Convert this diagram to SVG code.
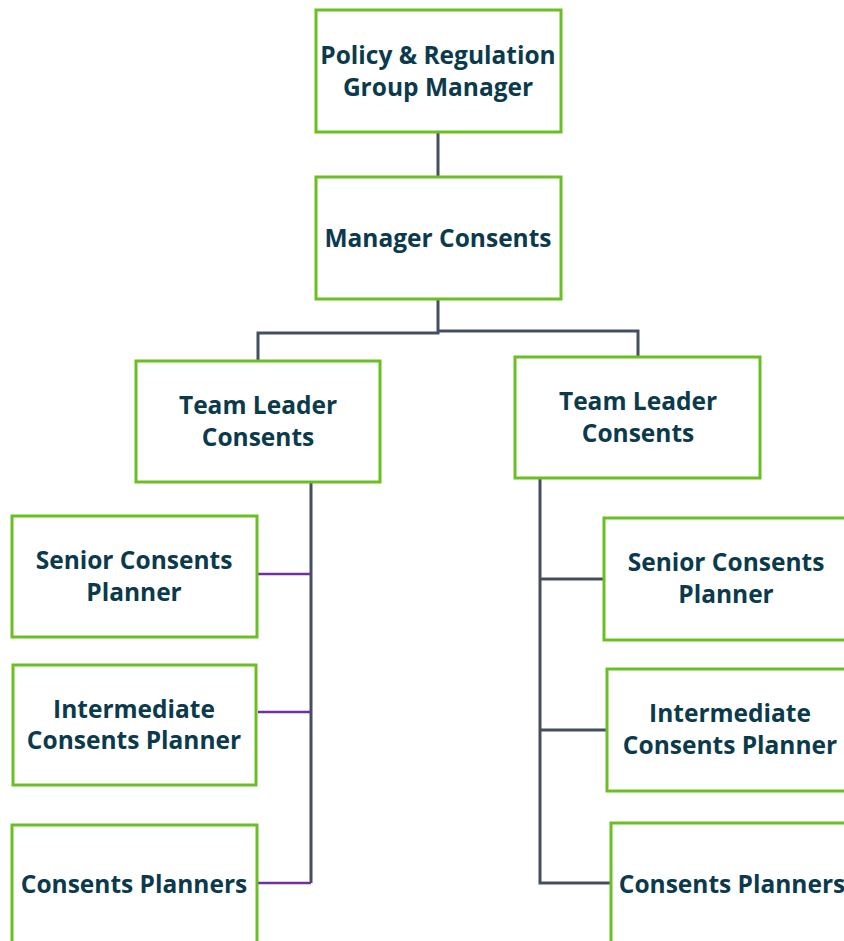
<svg xmlns="http://www.w3.org/2000/svg" width="844" height="941" viewBox="0 0 844 941">
<style>
.box{fill:#ffffff;stroke:#6abf22;stroke-width:3}
.t{font-family:"Open Sans","Noto Sans","Liberation Sans",sans-serif;font-weight:bold;font-size:24.5px;fill:#0b3a4d;text-anchor:middle}
.c{fill:none;stroke:#444f60;stroke-width:3}
.p{fill:none;stroke:#7030a0;stroke-width:2.5}
</style>
<rect width="844" height="941" fill="#ffffff"/>
<g id="connectors">
<path class="c" d="M438 132V177"/>
<path class="c" d="M438 299V333H258V361"/>
<path class="c" d="M438 331H638V357"/>
<path class="c" d="M311 482V883"/>
<path class="p" d="M258 574H311"/>
<path class="p" d="M258 712H311"/>
<path class="p" d="M258 883H311"/>
<path class="c" d="M540 478V883H611"/>
<path class="c" d="M540 579H604"/>
<path class="c" d="M540 730H607"/>
</g>
<g id="policy-regulation-group-manager">
<rect class="box" x="316" y="10" width="245" height="122"/>
<text class="t" x="438" y="64">Policy &amp; Regulation</text>
<text class="t" x="438" y="96">Group Manager</text>
</g>
<g id="manager-consents">
<rect class="box" x="316" y="177" width="245" height="122"/>
<text class="t" x="438" y="247">Manager Consents</text>
</g>
<g id="team-leader-left">
<rect class="box" x="136" y="361" width="244" height="121"/>
<text class="t" x="258" y="414">Team Leader</text>
<text class="t" x="258" y="446">Consents</text>
</g>
<g id="team-leader-right">
<rect class="box" x="515" y="357" width="245" height="121"/>
<text class="t" x="638" y="410">Team Leader</text>
<text class="t" x="638" y="442">Consents</text>
</g>
<g id="senior-left">
<rect class="box" x="12" y="516" width="245" height="121"/>
<text class="t" x="134" y="569">Senior Consents</text>
<text class="t" x="134" y="601">Planner</text>
</g>
<g id="intermediate-left">
<rect class="box" x="13" y="665" width="243" height="120"/>
<text class="t" x="134" y="718">Intermediate</text>
<text class="t" x="134" y="749">Consents Planner</text>
</g>
<g id="planners-left">
<rect class="box" x="12" y="825" width="245" height="130"/>
<text class="t" x="134" y="893">Consents Planners</text>
</g>
<g id="senior-right">
<rect class="box" x="604" y="518" width="260" height="122"/>
<text class="t" x="726" y="571">Senior Consents</text>
<text class="t" x="726" y="603">Planner</text>
</g>
<g id="intermediate-right">
<rect class="box" x="607" y="669" width="260" height="122"/>
<text class="t" x="730" y="722">Intermediate</text>
<text class="t" x="730" y="754">Consents Planner</text>
</g>
<g id="planners-right">
<rect class="box" x="611" y="823" width="260" height="130"/>
<text class="t" x="732" y="893">Consents Planners</text>
</g>
</svg>
